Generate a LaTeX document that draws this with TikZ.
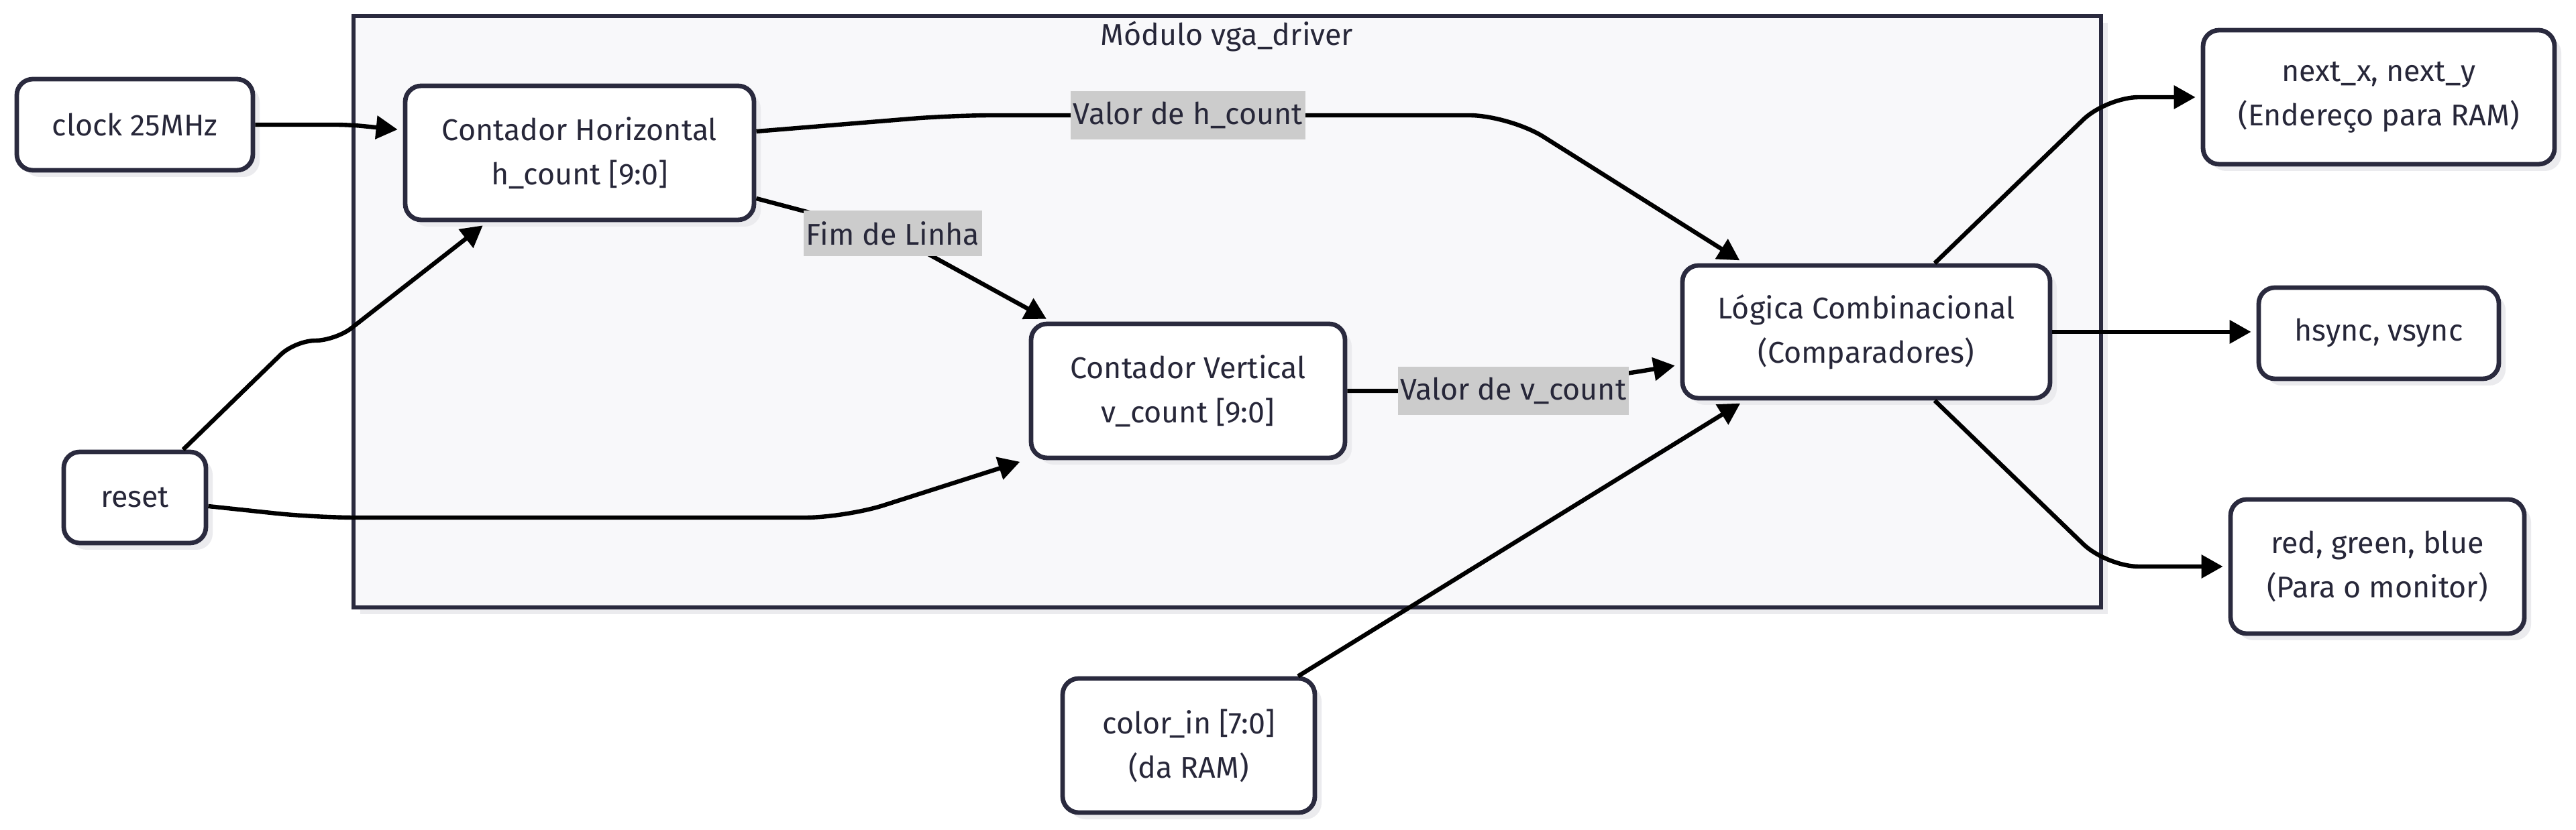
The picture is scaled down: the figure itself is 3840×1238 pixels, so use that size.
\documentclass[tikz,border=0pt]{standalone}
\usepackage{fontspec}
\setmainfont{Fira Sans}
\usetikzlibrary{arrows.meta,shadows}
\definecolor{nodeborder}{HTML}{2A2A3E}
\definecolor{txt}{HTML}{272739}
\definecolor{modfill}{HTML}{F8F8FA}
\definecolor{shadowc}{HTML}{EBEBEE}
\definecolor{lblfill}{HTML}{CCCCCC}
\begin{document}
\begin{tikzpicture}[x=0.25pt,y=-0.25pt,
  box/.style={draw=nodeborder, line width=1.7pt, fill=white, rounded corners=6pt,
    align=center, text=txt, font=\fontsize{11.2}{16.5}\selectfont, inner sep=0pt,
    drop shadow={shadow xshift=2.5pt, shadow yshift=-2.5pt, fill=shadowc, opacity=1}},
  arr/.style={-{Triangle[length=8pt,width=8.5pt]}, line width=1.6pt, black, shorten >=2pt},
  lbl/.style={fill=lblfill, text=txt, font=\fontsize{11.2}{13}\selectfont, inner xsep=1pt, inner ysep=4pt},
  title/.style={text=txt, font=\fontsize{11.2}{13}\selectfont}
]
\useasboundingbox (0,0) rectangle (3840,1238);
% module
\fill[shadowc] (537,34) rectangle (3142,916);
\draw[draw=nodeborder, line width=1.7pt, fill=modfill] (527,24) rectangle (3132,906);
\node[title] (mtitle) at (1829,54) {Módulo vga\_driver};
% nodes
\node[box, minimum width=88pt, minimum height=34pt] (clock) at (201,186) {clock 25MHz};
\node[box, minimum width=130pt, minimum height=50pt] (ch) at (864,228) {Contador Horizontal\\h\_count [9:0]};
\node[box, minimum width=117pt, minimum height=50pt] (cv) at (1771,583) {Contador Vertical\\v\_count [9:0]};
\node[box, minimum width=137pt, minimum height=49.5pt] (lc) at (2782,495) {Lógica Combinacional\\(Comparadores)};
\node[box, minimum width=53pt, minimum height=34pt] (reset) at (201,742) {reset};
\node[box, minimum width=94pt, minimum height=50pt] (color) at (1772,1112) {color\_in [7:0]\\(da RAM)};
\node[box, minimum width=131pt, minimum height=50pt] (nxy) at (3546,145) {next\_x, next\_y\\(Endereço para RAM)};
\node[box, minimum width=89.5pt, minimum height=34pt] (hs) at (3546,497) {hsync, vsync};
\node[box, minimum width=109.5pt, minimum height=50pt] (rgb) at (3544,845) {red, green, blue\\(Para o monitor)};
% edges
\draw[arr, rounded corners=5pt] (clock.east) -- (520,186) -- (ch.west |- 0,194);
\draw[arr, rounded corners=7.5pt] (reset.north -| 273,0) -- (440,508) -- (500,508) -- (ch.south -| 726,0);
\draw[arr, rounded corners=15pt] (reset.east |- 0,755) -- (470,772) -- (1260,772) -- (cv.south -| 1528,0);
\draw[arr, rounded corners=15pt] (ch.east |- 0,196) -- (1420,172) -- (2250,172) -- (lc.north -| 2600,0);
\node[lbl] (l1) at (1771,172) {Valor de h\_count};
\draw[arr, rounded corners=12pt] (ch.east |- 0,296) -- (1331,350) -- (cv.north -| 1567,0);
\node[lbl] (l2) at (1331,348) {Fim de Linha};
\draw[arr, rounded corners=7.5pt] (cv.east) -- (2200,583) -- (2420,558) -- (lc.west |- 0,544);
\node[lbl] (l3) at (2256,583) {Valor de v\_count};
\draw[arr] (color.north -| 1935,0) -- (lc.south -| 2601,0);
\draw[arr, rounded corners=12pt] (lc.north -| 2884,0) -- (3140,145) -- (nxy.west);
\draw[arr] (lc.east) -- (hs.west |- lc.east);
\draw[arr, rounded corners=12pt] (lc.south -| 2884,0) -- (3140,845) -- (rgb.west);
\end{tikzpicture}
\end{document}
